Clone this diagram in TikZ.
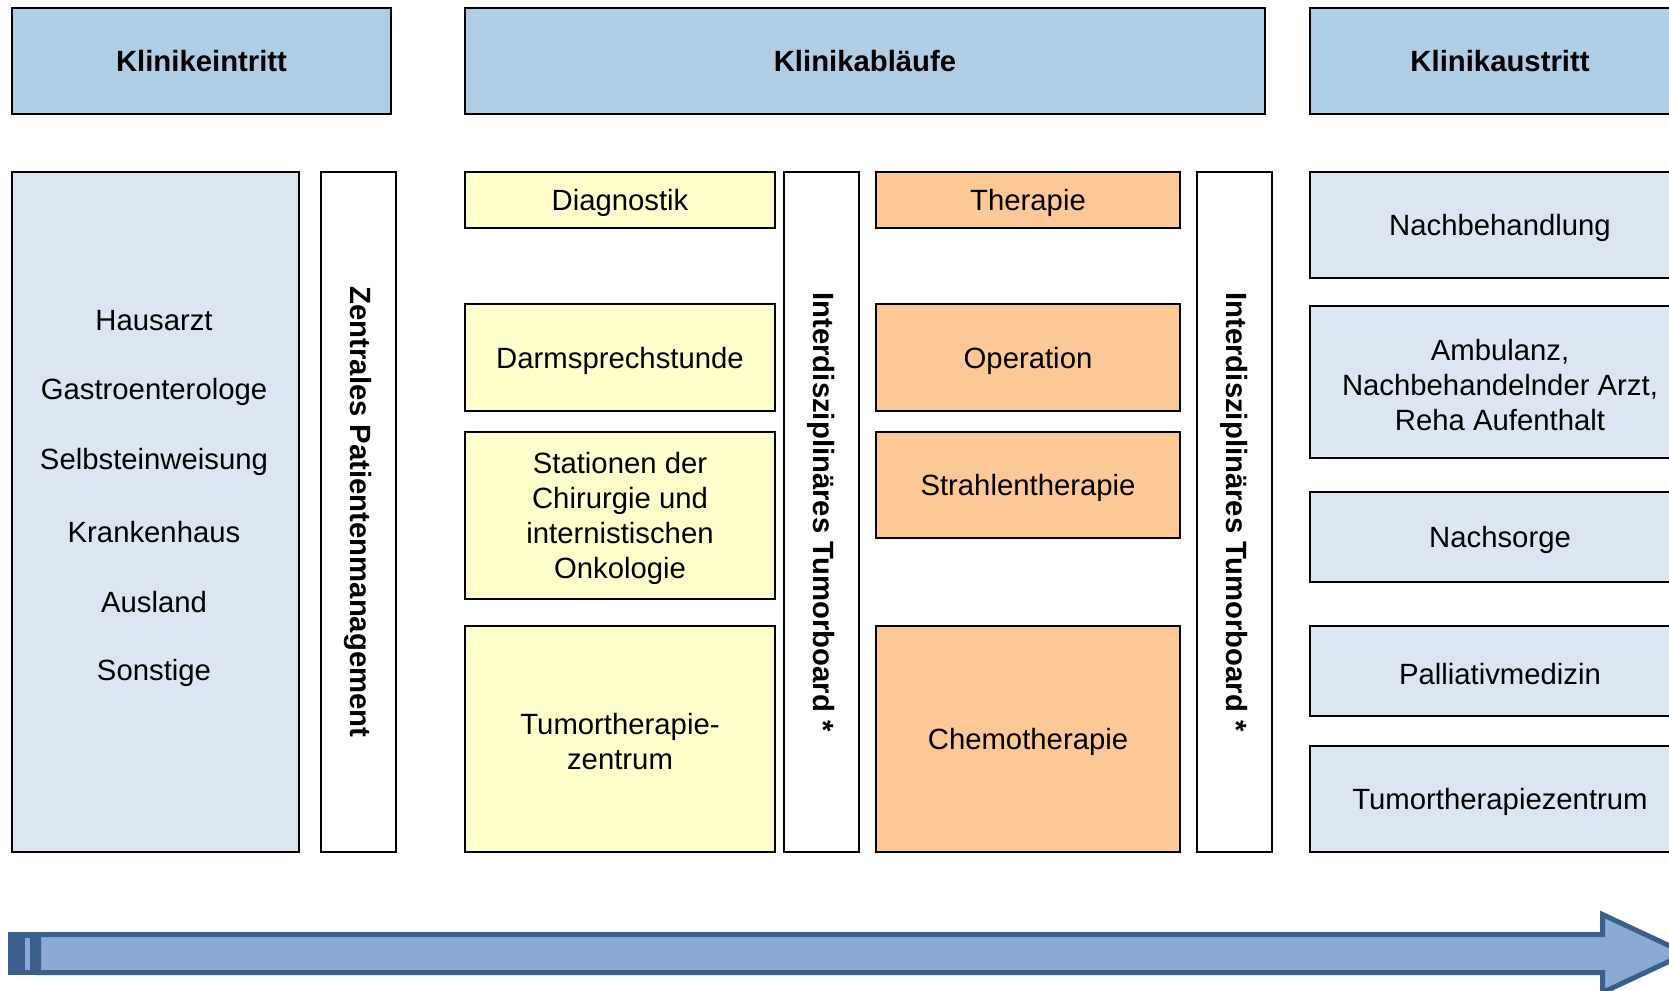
\documentclass[tikz,border=0pt]{standalone}
\usepackage{fontspec}
\setmainfont{Liberation Sans}
\definecolor{hdrblue}{HTML}{B0CDE6}
\definecolor{paleblue}{HTML}{DCE6F2}
\definecolor{yel}{HTML}{FFFFCC}
\definecolor{ora}{HTML}{FCC896}
\definecolor{arrowfill}{HTML}{8AAAD4}
\definecolor{arrowline}{HTML}{3A5F8F}
\newcommand{\fs}{\fontsize{29.3}{35}\selectfont}
% box node plus its text node, text slightly lowered
\newcommand{\tbox}[6]{%
  \node[#1, minimum height=#5] (#2) at (#3,#4) {};
  \node[btext] (#2-t) at ([yshift=-3pt]#2.center) {#6};}
\begin{document}
\begin{tikzpicture}[x=1pt,y=-1pt,
  box/.style={draw=black, line width=2pt, inner sep=0pt, anchor=north west},
  hdr/.style={box, fill=hdrblue, align=center, font=\fs\bfseries},
  pbox/.style={box, fill=paleblue},
  ybox/.style={box, fill=yel, minimum width=310},
  obox/.style={box, fill=ora, minimum width=304},
  rbox/.style={box, fill=paleblue, minimum width=380},
  vbox/.style={box, fill=white, minimum width=75, minimum height=680},
  vtext/.style={rotate=-90, font=\fs\bfseries, inner sep=0pt},
  btext/.style={font=\fs, inner sep=0pt, align=center},
  ltext/.style={font=\fs, inner sep=0pt}]
\useasboundingbox (0,0) rectangle (1669,990);
\clip (0,0) rectangle (1669,990);
% headers
\node[hdr, minimum width=379, minimum height=106] (eintritt) at (11,7) {Klinikeintritt};
\node[hdr, minimum width=800, minimum height=106] (ablaeufe) at (464,7) {Klinikabläufe};
\node[hdr, minimum width=380, minimum height=106] (austritt) at (1309,7) {Klinikaustritt};
% left column
\node[pbox, minimum width=287, minimum height=680] (quellen) at (11,171) {};
\node[ltext] (hausarzt) at (154,321) {Hausarzt};
\node[ltext] (gastro) at (154,391.5) {Gastroenterologe};
\node[ltext] (selbst) at (154,462) {Selbsteinweisung};
\node[ltext] (kh) at (154,532) {Krankenhaus};
\node[ltext] (ausland) at (154,602) {Ausland};
\node[ltext] (sonstige) at (154,672.5) {Sonstige};
\node[vbox] (zpm) at (320,171) {};
\node[vtext] (zpmtext) at (zpm.center) {Zentrales Patientenmanagement};
% diagnostics
\tbox{ybox}{diag}{464}{171}{56}{Diagnostik}
\tbox{ybox}{darm}{464}{303}{107}{Darmsprechstunde}
\tbox{ybox}{stat}{464}{431}{167}{Stationen der\\Chirurgie und\\internistischen\\Onkologie}
\tbox{ybox}{ttz1}{464}{625}{226}{Tumortherapie-\\zentrum}
\node[vbox] (itb1) at (783,171) {};
\node[vtext] (itb1text) at (itb1.center) {Interdisziplinäres Tumorboard *};
% therapy
\tbox{obox}{ther}{875}{171}{56}{Therapie}
\tbox{obox}{op}{875}{303}{107}{Operation}
\tbox{obox}{strahl}{875}{431}{106}{Strahlentherapie}
\tbox{obox}{chemo}{875}{625}{226}{Chemotherapie}
\node[vbox] (itb2) at (1196,171) {};
\node[vtext] (itb2text) at (itb2.center) {Interdisziplinäres Tumorboard *};
% right column
\tbox{rbox}{nachbeh}{1309}{171}{106}{Nachbehandlung}
\tbox{rbox}{amb}{1309}{305}{152}{Ambulanz,\\Nachbehandelnder Arzt,\\Reha Aufenthalt}
\tbox{rbox}{nachsorge}{1309}{491}{90}{Nachsorge}
\tbox{rbox}{palliativ}{1309}{625}{90}{Palliativmedizin}
\tbox{rbox}{ttz2}{1309}{745}{106}{Tumortherapiezentrum}
% bottom arrow
\fill[arrowline] (8,932) rectangle (41,975);
\fill[arrowfill] (25,938) rectangle (30,970);
\draw[arrowline, fill=arrowfill, line width=5pt, line join=miter]
  (38.5,934.5) -- (1602.5,934.5) -- (1602.5,914.5) -- (1686,953.5)
  -- (1602.5,992.5) -- (1602.5,972.5) -- (38.5,972.5) -- cycle;
\end{tikzpicture}
\end{document}
